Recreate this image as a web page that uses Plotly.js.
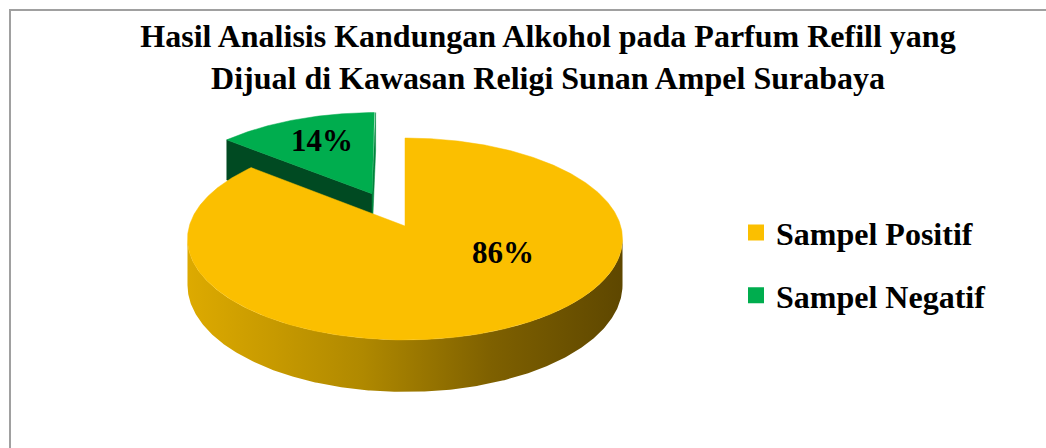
<!DOCTYPE html>
<html><head><meta charset="utf-8">
<script src="https://cdn.plot.ly/plotly-3.0.1.min.js"></script>
<style>html,body{margin:0;padding:0;background:#fff}#chart{width:1046px;height:448px}</style>
</head><body><div id="chart"></div>
<script>
// ---- data ----
const labels = ['Sampel Positif', 'Sampel Negatif'];
const values = [86, 14];
const titleLines = ['Hasil Analisis Kandungan Alkohol pada Parfum Refill yang', 'Dijual di Kawasan Religi Sunan Ampel Surabaya'];

// ---- styles ----
const explode = [0, 0.375];
const topColors = ['#FBBF00', '#00AD4E'];
const faceStartColors = ['#B38600', '#004A22'];
const faceEndColors = ['#8A6A00', '#00843C'];
const wallScales = [
  [[0, '#DDAA00'], [0.4, '#B08900'], [0.7, '#7E6000'], [1, '#5E4700']],
  [[0, '#009944'], [1, '#004A22']]
];
const labelPos = [[503, 252], [322, 140]];

// ---- 3D projection (pixel space) ----
const CX = 405, CY = 226, A = 215.7, B = 99.3, K = 0.1287, T = 45.3;
function P(X, Z, h) { const d = 1 + K * Z; return [CX + A * X / d, CY + (-B * Z + h) / d]; }
const rad = d => d * Math.PI / 180;

const total = values.reduce((s, v) => s + v, 0);
let acc = 0;
const slices = values.map((v, i) => {
  const a0 = acc / total * 360; acc += v; const a1 = acc / total * 360;
  const m = rad((a0 + a1) / 2);
  return {i, a0, a1, ox: explode[i] * Math.sin(m), oz: explode[i] * Math.cos(m)};
});

function poly(pts, extra) {
  const xs = pts.map(p => p[0]), ys = pts.map(p => p[1]);
  xs.push(xs[0]); ys.push(ys[0]);
  return Object.assign({type: 'scatter', x: xs, y: ys, mode: 'lines', fill: 'toself',
    hoverinfo: 'skip', showlegend: false}, extra);
}
function rim(s, th, h) { return P(s.ox + Math.sin(rad(th)), s.oz + Math.cos(rad(th)), h); }

const camZ = -1 / K;
const traces = [];
// draw back slices first
const order = slices.slice().sort((p, q) => q.oz - p.oz);
order.forEach(s => {
  const i = s.i;
  // cut faces
  [[s.a0, -1, faceStartColors[i]], [s.a1, 1, faceEndColors[i]]].forEach(([a, sg, col]) => {
    const n = [sg * Math.cos(rad(a)), -sg * Math.sin(rad(a))];
    const vis = n[0] * (0 - s.ox) + n[1] * (camZ - s.oz);
    if (vis > 1e-6 && (s.a1 - s.a0) < 360) {
      const pts = [P(s.ox, s.oz, 0), rim(s, a, 0), rim(s, a, T), P(s.ox, s.oz, T)];
      traces.push(poly(pts, {fillcolor: col, line: {color: col, width: 0.5}}));
    }
  });
  // outer wall (visible runs)
  const runs = []; let cur = null;
  for (let th = s.a0; th <= s.a1 + 1e-9; th += 0.5) {
    const t = rad(th);
    const X = s.ox + Math.sin(t), Z = s.oz + Math.cos(t);
    const vis = Math.sin(t) * (0 - X) + Math.cos(t) * (camZ - Z);
    if (vis > 0) { if (!cur) { cur = []; runs.push(cur); } cur.push(th); } else cur = null;
  }
  runs.forEach(r => {
    if (r.length < 2) return;
    const pts = r.map(th => rim(s, th, 0)).concat(r.slice().reverse().map(th => rim(s, th, T)));
    traces.push(poly(pts, {line: {width: 0}, fillgradient: {type: 'horizontal', colorscale: wallScales[i]}}));
  });
  // top face
  const top = [P(s.ox, s.oz, 0)];
  for (let th = s.a0; th <= s.a1 + 1e-9; th += 0.5) top.push(rim(s, th, 0));
  traces.push(poly(top, {fillcolor: topColors[i], line: {color: topColors[i], width: 0.5}}));
});

// legend entries
labels.forEach((lab, i) => traces.push({type: 'scatter', x: [null], y: [null], mode: 'markers', name: lab,
  legendgroup: 'g' + i, marker: {symbol: 'square', size: 16, color: topColors[i]}, hoverinfo: 'skip'}));

const annotations = values.map((v, i) => ({
  x: labelPos[i][0], y: labelPos[i][1], xref: 'x', yref: 'y', showarrow: false,
  text: Math.round(v / total * 100) + '%', xanchor: 'center', yanchor: 'middle',
  font: {family: 'Liberation Serif', size: 31, color: '#000', weight: 'bold'}
}));

const layout = {
  width: 1046, height: 448,
  margin: {l: 0, r: 0, t: 0, b: 0},
  paper_bgcolor: '#fff', plot_bgcolor: '#fff',
  xaxis: {range: [0, 1046], visible: false, fixedrange: true},
  yaxis: {range: [448, 0], visible: false, fixedrange: true},
  title: {text: '<b>' + titleLines.join('<br>') + '</b>', x: 548 / 1046, xanchor: 'center',
    xref: 'paper', yref: 'container', y: 0.895, yanchor: 'top',
    font: {family: 'Liberation Serif', size: 32, color: '#000'}},
  showlegend: true,
  legend: {x: 736 / 1046, y: 0.41, xanchor: 'left', yanchor: 'middle', traceorder: 'grouped',
    tracegroupgap: 18, bgcolor: 'rgba(0,0,0,0)', itemwidth: 30,
    font: {family: 'Liberation Serif', size: 32, color: '#000', weight: 'bold'}},
  annotations: annotations,
  shapes: [{type: 'path', path: 'M10,470 L10,10 L1070,10', xref: 'x', yref: 'y',
    line: {color: '#A0A0A0', width: 2}}]
};
Plotly.newPlot('chart', traces, layout, {displayModeBar: false, staticPlot: true});
</script></body></html>
